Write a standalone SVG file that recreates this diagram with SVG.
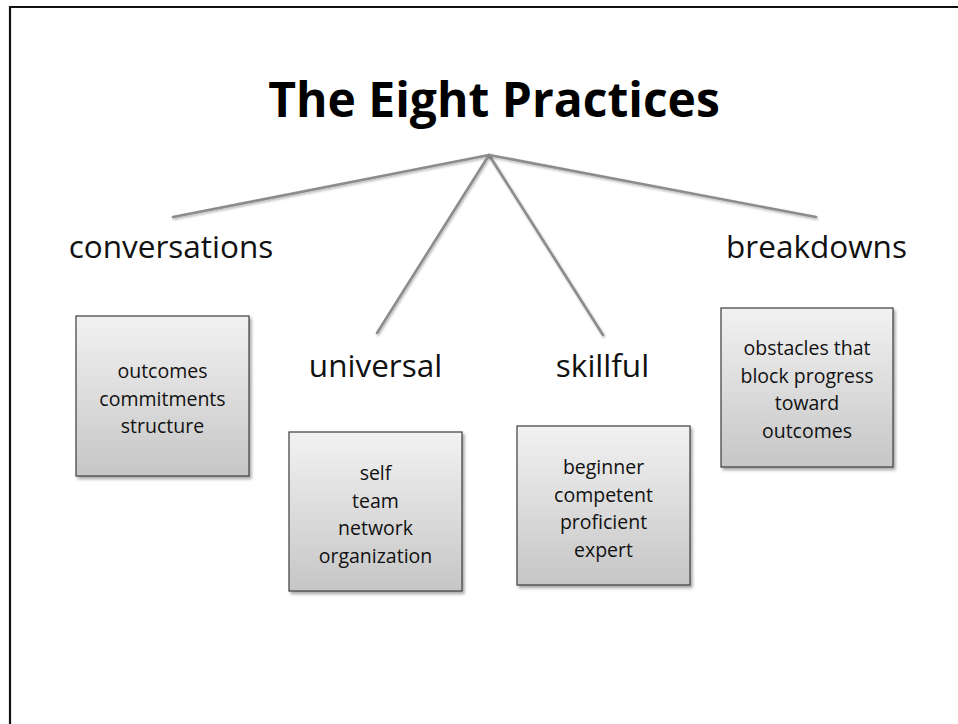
<svg xmlns="http://www.w3.org/2000/svg" width="958" height="724" viewBox="0 0 958 724">
  <defs>
    <linearGradient id="boxFill" x1="0" y1="0" x2="0" y2="1">
      <stop offset="0" stop-color="#f2f2f2"/>
      <stop offset="1" stop-color="#c6c6c6"/>
    </linearGradient>
    <filter id="shadow" x="-10%" y="-10%" width="130%" height="130%">
      <feDropShadow dx="2" dy="2.5" stdDeviation="1.5" flood-color="#000" flood-opacity="0.35"/>
    </filter>
    <filter id="lineShadow" x="-10%" y="-10%" width="130%" height="130%">
      <feDropShadow dx="1" dy="1.5" stdDeviation="1" flood-color="#000" flood-opacity="0.3"/>
    </filter>
  </defs>
  <style>
    .frame { fill: none; stroke: #111; stroke-width: 2.2; }
    .title { font-family: "Open Sans", "Liberation Sans", sans-serif; font-weight: bold; font-size: 48px; fill: #000; text-anchor: middle; }
    .label { font-family: "Open Sans", "Liberation Sans", sans-serif; font-size: 31.5px; fill: #111; text-anchor: middle; }
    .box { fill: url(#boxFill); stroke: #3c3c3c; stroke-width: 1.2; filter: url(#shadow); }
    .boxtext { font-family: "Open Sans", "Liberation Sans", sans-serif; font-size: 19.5px; fill: #111; text-anchor: middle; }
    .conn { stroke: #8c8c8c; stroke-width: 2.6; fill: none; stroke-linecap: round; filter: url(#lineShadow); }
  </style>
  <rect width="958" height="724" fill="#fff"/>
  <path class="frame" d="M10,724 L10,7 L958,7"/>

  <g id="title">
    <text class="title" x="494" y="117">The Eight Practices</text>
  </g>

  <g id="connectors">
    <line class="conn" x1="489" y1="155" x2="173" y2="217"/>
    <line class="conn" x1="489" y1="155" x2="377" y2="333"/>
    <line class="conn" x1="489" y1="155" x2="603" y2="335"/>
    <line class="conn" x1="489" y1="155" x2="816" y2="217"/>
  </g>

  <g id="conversations">
    <text class="label" x="171" y="258">conversations</text>
    <rect class="box" x="76" y="316" width="173" height="160"/>
    <text class="boxtext" x="162.5" y="378">outcomes</text>
    <text class="boxtext" x="162.5" y="405.5">commitments</text>
    <text class="boxtext" x="162.5" y="433">structure</text>
  </g>

  <g id="universal">
    <text class="label" x="375.5" y="377">universal</text>
    <rect class="box" x="289" y="432" width="173" height="159"/>
    <text class="boxtext" x="375.5" y="480">self</text>
    <text class="boxtext" x="375.5" y="507.5">team</text>
    <text class="boxtext" x="375.5" y="535">network</text>
    <text class="boxtext" x="375.5" y="562.5">organization</text>
  </g>

  <g id="skillful">
    <text class="label" x="602.5" y="377">skillful</text>
    <rect class="box" x="517" y="426" width="173" height="159"/>
    <text class="boxtext" x="603.5" y="474">beginner</text>
    <text class="boxtext" x="603.5" y="501.5">competent</text>
    <text class="boxtext" x="603.5" y="529">proficient</text>
    <text class="boxtext" x="603.5" y="556.5">expert</text>
  </g>

  <g id="breakdowns">
    <text class="label" x="816.5" y="258">breakdowns</text>
    <rect class="box" x="721" y="308" width="172" height="159"/>
    <text class="boxtext" x="807" y="355">obstacles that</text>
    <text class="boxtext" x="807" y="382.5">block progress</text>
    <text class="boxtext" x="807" y="410">toward</text>
    <text class="boxtext" x="807" y="437.5">outcomes</text>
  </g>
</svg>
